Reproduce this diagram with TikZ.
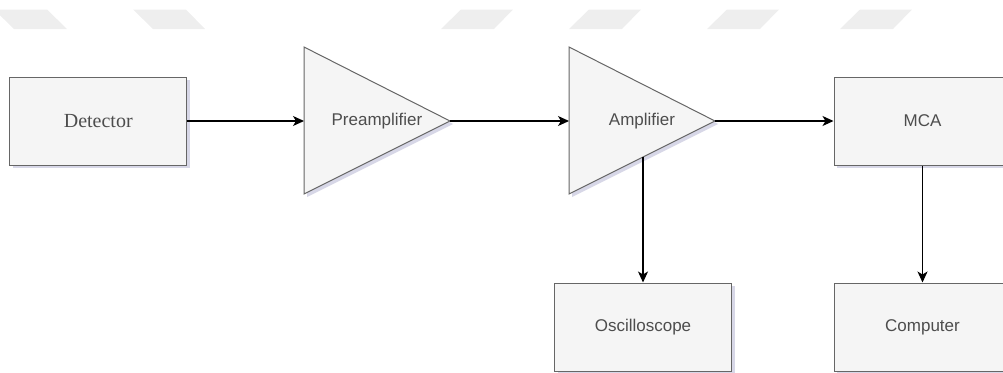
\documentclass[tikz,border=0pt]{standalone}
\usepackage{fontspec}
\setmainfont{Liberation Sans}
\newfontfamily\seriffont{Liberation Serif}
\usetikzlibrary{shadows}
\usetikzlibrary{arrows.meta}

\definecolor{boxfill}{HTML}{F5F5F5}
\definecolor{boxline}{HTML}{666666}
\definecolor{textgray}{HTML}{4D4D4D}
\definecolor{markgray}{HTML}{EEEEEE}

\tikzset{
  softshadow/.style = {drop shadow={shadow xshift=3pt, shadow yshift=-3pt, opacity=0.25, fill=blue!25!gray}},
  unit/.style = {draw=boxline, fill=boxfill, line width=1pt, text=textgray, softshadow,
    minimum width=177pt, minimum height=88pt, inner sep=0pt, font=\fontsize{17}{20}\selectfont},
  amp/.style = {draw=boxline, fill=boxfill, line width=1pt, line join=miter, softshadow},
  ampname/.style = {text=textgray, inner sep=0pt, font=\fontsize{17}{20}\selectfont},
  wire/.style = {draw=black, line width=1.2pt, -{Stealth[length=11pt, width=10pt, inset=3pt]}}
}

\begin{document}
\begin{tikzpicture}[x=1pt, y=-1pt]

    \useasboundingbox (0,0) rectangle (1003,372);
    \clip (0,0) rectangle (1003,372);

    % faint marks along the top
    \fill[markgray] (-6,9.5) -- (47,9.5) -- (67,29) -- (14,29) -- cycle;
    \fill[markgray] (133,9.5) -- (186,9.5) -- (205,29) -- (153,29) -- cycle;
    \foreach \xt in {461,589,727,860}
        \fill[markgray] (\xt,9.5) -- (\xt+52,9.5) -- (\xt+33,29) -- (\xt-20,29) -- cycle;

    % boxes
    \node[unit, font=\fontsize{20}{24}\seriffont] (detector) at (98.25,121) {Detector};
    \node[unit] (mca) at (922.5,121) {MCA};
    \node[unit] (scope) at (643,327) {Oscilloscope};
    \node[unit] (computer) at (922.5,327) {Computer};

    % amplifier triangles
    \draw[amp] (304,47) -- (450,121) -- (304,194) -- cycle;
    \node[ampname] (preamp) at (377,121) {Preamplifier};
    \coordinate (preamp in) at (304,121);
    \coordinate (preamp out) at (450,121);

    \draw[amp] (569,47) -- (715,121) -- (569,194) -- cycle;
    \node[ampname] (amplifier) at (642,121) {Amplifier};
    \coordinate (amp in) at (569,121);
    \coordinate (amp out) at (715,121);
    \coordinate (amp foot) at (643,157);

    % signal chain
    \draw[wire] (detector) -- (preamp in);
    \draw[wire] (preamp out) -- (amp in);
    \draw[wire] (amp out) -- (mca);
    \draw[wire] (amp foot) -- (scope);
    \draw[wire] (mca) -- (computer);

\end{tikzpicture}
\end{document}
